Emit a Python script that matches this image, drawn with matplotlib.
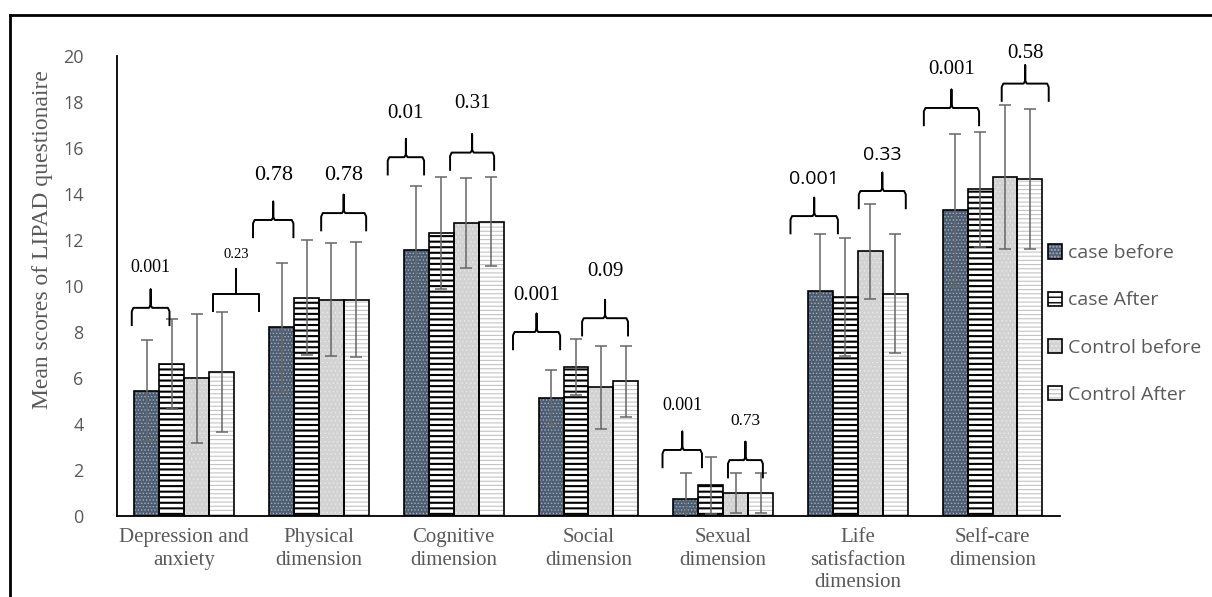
import numpy as np
import matplotlib
matplotlib.use("Agg")
import matplotlib.pyplot as plt
from matplotlib.lines import Line2D
from matplotlib.legend_handler import HandlerTuple

categories = ["Depression and\nanxiety", "Physical\ndimension", "Cognitive\ndimension",
              "Social\ndimension", "Sexual\ndimension", "Life\nsatisfaction\ndimension",
              "Self-care\ndimension"]
series = ["case before", "case After", "Control before", "Control After"]

case_before = [5.45, 8.2, 11.55, 5.15, 0.72, 9.78, 13.3]
case_after = [6.6, 9.48, 12.3, 6.48, 1.33, 9.52, 14.2]
control_before = [5.98, 9.4, 12.75, 5.6, 1.0, 11.5, 14.75]
control_after = [6.25, 9.4, 12.8, 5.85, 1.0, 9.67, 14.65]

sd_case_before = [2.2, 2.8, 2.8, 1.2, 1.13, 2.5, 3.3]
sd_case_after = [1.95, 2.5, 2.45, 1.2, 1.25, 2.56, 2.5]
sd_control_before = [2.8, 2.45, 1.95, 1.8, 0.87, 2.07, 3.12]
sd_control_after = [2.6, 2.5, 1.95, 1.55, 0.87, 2.6, 3.05]

# p-value braces: group, left/right offset from group centre, label
brace_group = [0, 0, 1, 1, 2, 2, 3, 3, 4, 4, 5, 5, 6, 6]
brace_left = [-0.39, 0.215, -0.49, 0.016, -0.49, -0.027, -0.56, -0.047, -0.45, 0.036, -0.5, 0.007, -0.51, 0.068]
brace_right = [-0.11, 0.556, -0.19, 0.35, -0.22, 0.30, -0.21, 0.294, -0.157, 0.295, -0.148, 0.356, -0.10, 0.417]
brace_y = [9.05, 9.65, 12.87, 13.17, 15.6, 15.8, 8.0, 8.6, 2.87, 2.43, 13.04, 14.13, 17.74, 18.8]
brace_text_y = [10.8, 11.35, 14.8, 14.8, 17.5, 17.95, 9.6, 10.65, 4.8, 4.13, 14.65, 15.7, 19.4, 20.1]
p_values = ["0.001", "0.23", "0.78", "0.78", "0.01", "0.31", "0.001", "0.09",
            "0.001", "0.73", "0.001", "0.33", "0.001", "0.58"]
p_size = [13, 10.5, 16, 16, 15, 15, 15, 15, 13, 12.5, 14, 14, 15, 15]

means = [case_before, case_after, control_before, control_after]
sds = [sd_case_before, sd_case_after, sd_control_before, sd_control_after]

# look of each series: face, hatch, hatch colour, hatch width
looks = [("#4e5e72", ".....", "#a3aebb", 0.6),
         ("white", "---", "black", 1.5),
         ("#d2d2d2", "....", "#e9e9e9", 0.5),
         ("white", "----", "#c4c4c4", 0.8)]

grey = "#595959"
fig = plt.figure(figsize=(12.12, 5.97), dpi=100)
ax = fig.add_axes([0.0965, 0.1357, 0.778, 0.7705])

x = np.arange(len(categories))
w = 0.185
handles = []
for k in range(4):
    pos = x + (k - 1.5) * w
    face, hatch, hcol, hlw = looks[k]
    with plt.rc_context({"hatch.linewidth": hlw}):
        b1 = ax.bar(pos, means[k], w, color=face, hatch=hatch, edgecolor=hcol, linewidth=0, zorder=2)
    b2 = ax.bar(pos, means[k], w, fill=False, edgecolor="black", linewidth=1.2, zorder=3)
    ax.errorbar(pos, means[k], yerr=sds[k], fmt="none", ecolor="#666666", elinewidth=1.1,
                capsize=4.5, capthick=1.1, zorder=4)
    handles.append((b1[0], b2[0]))

# braces with p-values
for g, l, r, y, ty, p, fs in zip(brace_group, brace_left, brace_right, brace_y,
                                 brace_text_y, p_values, p_size):
    x0, x1 = g + l, g + r
    xc = (x0 + x1) / 2
    d = 0.75
    fam = "Open Sans" if g == 5 else "Liberation Serif"
    if p == "0.23":
        ax.plot([x0, x0, x1, x1], [y - d, y, y, y - d], color="black", lw=1.4,
                clip_on=False, zorder=5)
        ax.plot([xc, xc], [y, y + 1.1], color="black", lw=1.4, clip_on=False, zorder=5)
    else:
        e = 0.012
        xs = [x0, x0, x0 + e, xc - e, xc, xc, xc, xc + e, x1 - e, x1, x1]
        ys = [y - d, y - 0.15, y, y, y + 0.12, y + 0.8, y + 0.12, y, y, y - 0.15, y - d]
        ax.plot(xs, ys, color="black", lw=1.4, clip_on=False, zorder=5, solid_joinstyle="round")
    ax.text(xc, ty, p, ha="center", va="center", fontsize=fs, family=fam, clip_on=False)

ax.set_xlim(-0.5, 6.5)
ax.set_ylim(0, 20)
ax.set_yticks(np.arange(0, 21, 2))
ax.set_xticks(x)
ax.set_xticklabels(categories, family="Liberation Serif", fontsize=15, color=grey, linespacing=1.25)
ax.tick_params(axis="x", length=0, pad=9)
ax.tick_params(axis="y", length=0, pad=24, labelsize=13, labelcolor=grey)
for t in ax.get_yticklabels():
    t.set_family("Open Sans")
for s in ["top", "right"]:
    ax.spines[s].set_visible(False)
ax.spines["left"].set_linewidth(1.3)
ax.spines["bottom"].set_linewidth(1.3)

fig.text(43 / 1212, 1 - 240 / 597, "Mean scores of LIPAD questionaire", rotation=90,
         ha="center", va="center", family="Liberation Serif", fontsize=17, color=grey)

leg = fig.legend(handles, series, loc="center left", bbox_to_anchor=(1030 / 1212, 1 - 324 / 597),
                 frameon=False, handlelength=0.75, handleheight=0.75, handletextpad=0.3,
                 labelspacing=1.5, handler_map={tuple: HandlerTuple(ndivide=1, pad=0)},
                 prop={"family": "Open Sans", "size": 14})
for t in leg.get_texts():
    t.set_color(grey)

# outer frame
fig.add_artist(Line2D([10 / 1212, 10 / 1212], [0, 1 - 15 / 597], color="black", lw=2))
fig.add_artist(Line2D([10 / 1212, 1], [1 - 15 / 597, 1 - 15 / 597], color="black", lw=2))

fig.savefig("out.png", dpi=100)
